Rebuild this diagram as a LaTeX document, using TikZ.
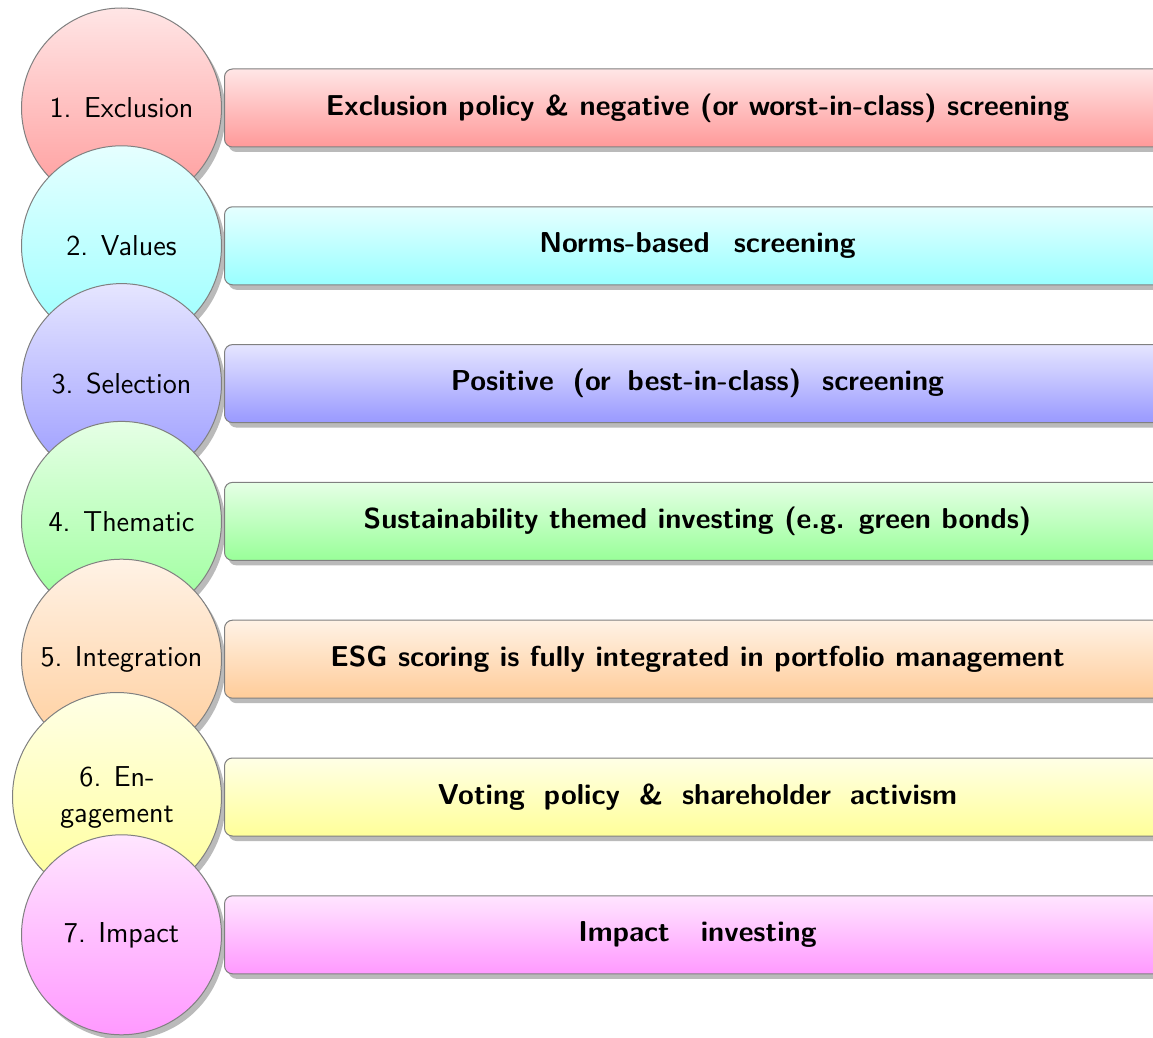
\documentclass[tikz,border=0pt]{standalone}
\usetikzlibrary{shadows}
\begin{document}
\begin{tikzpicture}[x=0.5pt,y=-0.5pt,
  shad/.style={drop shadow={shadow xshift=2pt,shadow yshift=-2.5pt,fill=black!27,opacity=1}},
  stage/.style={circle,draw=black!50,line width=0.5pt,anchor=east,minimum size=100pt,inner sep=1pt,
    font=\sffamily\Large,align=center,shad,top color=#1!10,bottom color=#1!40},
  bar/.style={rectangle,rounded corners=4pt,draw=black!50,line width=0.5pt,anchor=west,
    minimum width=473pt,minimum height=39pt,font=\sffamily\bfseries\Large,shad,
    top color=#1!10,bottom color=#1!40}]
\clip (0,0) rectangle (1153,1038);
\fill[white] (0,0) rectangle (1153,1038);
\node[stage=red] (c1) at (222,108) {1. Exclusion};
\node[bar=red] (b1) at (224,108) {Exclusion policy \& negative (or worst-in-class) screening};
\node[stage=cyan] (c2) at (222,245.8) {2. Values};
\node[bar=cyan] (b2) at (224,245.8) {Norms-based\hspace{12pt}screening};
\node[stage=blue] (c3) at (222,383.6) {3. Selection};
\node[bar=blue] (b3) at (224,383.6) {Positive\hspace{9.5pt}(or\hspace{8.5pt}best-in-class)\hspace{10.5pt}screening};
\node[stage=green] (c4) at (222,521.4) {4. Thematic};
\node[bar=green] (b4) at (224,521.4) {Sustainability themed investing (e.g. green bonds)};
\node[stage=orange] (c5) at (222,659.2) {5. Integration};
\node[bar=orange] (b5) at (224,659.2) {ESG scoring is fully integrated in portfolio management};
\node[stage=yellow,minimum size=104.5pt] (c6) at (222,797) {6. En-\\gagement};
\node[bar=yellow] (b6) at (224,797) {Voting\hspace{9.5pt}policy\hspace{9.5pt}\&\hspace{9.5pt}shareholder\hspace{9.5pt}activism};
\node[stage=magenta] (c7) at (222,934.8) {7. Impact};
\node[bar=magenta] (b7) at (224,934.8) {Impact\hspace{15.5pt}investing};
\end{tikzpicture}
\end{document}
